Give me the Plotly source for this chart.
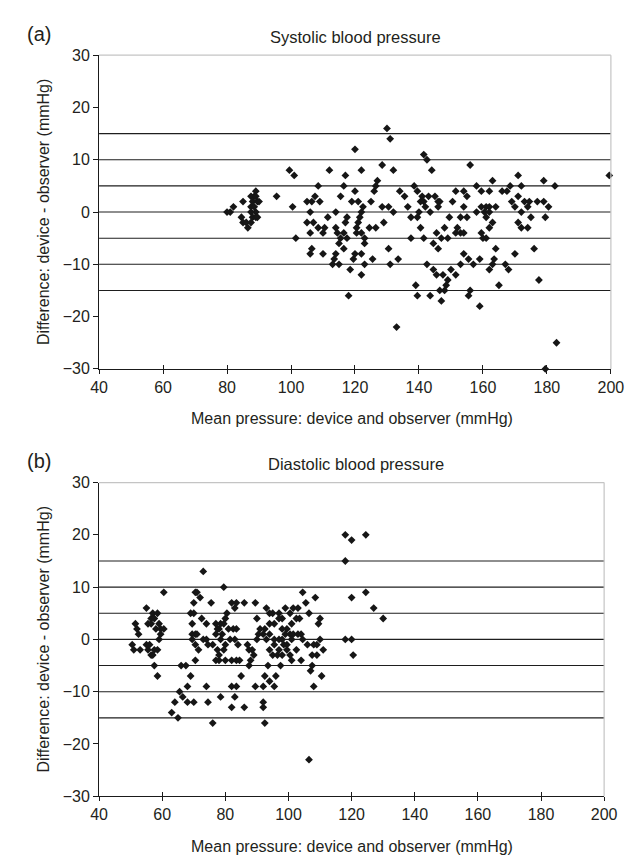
import plotly.graph_objects as go

# ---------------- data ----------------
# (a) Systolic: mean pressure (x) and difference (y)
sys_mean = [
    80, 81, 82, 85, 84.5, 85, 86, 86.5, 87.5, 87.5, 88.5, 89, 88, 89.5, 90, 87.5, 88.5, 89, 87.5, 88, 89, 89.5, 89,
    95.5, 99.5, 101, 100.5, 101.5,
    112, 117, 122, 128.5, 132, 120, 130, 131,
    127, 126.5, 126, 108.5, 116.5, 120, 115.5, 107.5,
    105, 106.5, 109, 119, 121, 125, 134, 135.5, 136.5,
    128.5, 130.5, 132, 122.5, 122, 106, 114,
    105, 107, 111.5, 117.5, 117, 121.5, 121, 120.5, 120.5,
    129, 124.5, 126.5, 108.5, 110.5, 110, 106, 114,
    114.5, 115.5, 116.5, 117.5, 115, 116.5,
    122, 123, 123, 137.5, 130.5, 106.5, 106, 110, 114, 113.5, 113, 115,
    120, 122, 119.5, 125.5, 123, 131, 133.5, 118.5, 122, 118, 133,
    138.5, 137.5, 139.5, 140, 140.5, 141.5, 141.5, 142.5, 144, 156,
    139.5, 141, 141.5, 140.5, 143, 142, 143.5, 145, 146, 146.5, 146,
    144.5, 146, 145.5, 147, 148, 149, 149.5, 150.5, 151.5, 154, 155, 154, 153, 155,
    152, 153, 151.5, 154,
    158, 159.5, 162, 163, 166, 167.5, 168.5,
    158, 159.5, 160.5, 161, 162, 162, 161, 164, 163, 162,
    159.5, 160, 161, 164, 154, 155.5, 157, 159, 153, 163.5, 163, 162, 167, 168,
    142.5, 144.5, 145.5, 147.5, 149, 148.5, 148, 146.5, 147, 150, 151.5,
    139, 139.5, 143.5, 156, 155.5, 159, 165,
    171, 172, 169, 170, 171, 172, 173, 174.5, 174, 177, 179, 180.5,
    171, 172, 174, 175, 179.5, 179, 182.5, 170, 176, 177.5, 199.5, 183, 179.5,
]
sys_diff = [
    0, 0, 1, 2, -1, -2, -2, -3, -2, 3, 3, 4, 2, 2, 2, 1, 1, 0, 0, -1, -1, -1, 3,
    3, 8, 7, 1, -5,
    8, 7, 8, 9, 8, 12, 16, 14,
    6, 5, 4, 5, 5, 4, 3, 3,
    2, 2, 2, 2, 2, 2, 4, 3, 1,
    1, 1, 0, 1, 0, 0, 0,
    -2, -2, -1, -1, -2, -1, -2, -3, -4,
    -2, -3, -3, -3, -3, -4, -4, -3,
    -4, -5, -4, -5, -6, -7,
    -4, -5, -6, -5, -7, -7, -8, -8, -8, -9, -10, -10,
    -8, -8, -9, -9, -10, -10, -9, -11, -12, -16, -22,
    5, -1, -1, 0, -3, -5, 11, 10, 8, 9,
    4, 3, 2, 2, 3, 1, 0, 3, 2, 2, 1,
    -6, -7, -4, -5, -3, -5, -1, 2, 4, 4, 3, 1, -1, -1,
    -3, -4, -4, -4,
    5, 4, 4, 6, 4, 4, 5,
    0, 1, 0, 1, 1, 0, -1, 1, -2, -3,
    -4, -5, -5, -7, -8, -9, -10, -9, -10, -9, -10, -11, -10, -11,
    -10, -11, -12, -12, -13, -14, -15, -15, -17, -11, -12,
    -14, -16, -16, -15, -16, -18, -14,
    7, 5, 2, 1, 3, 0, 2, 2, 1, 2, 2, 1,
    -2, -3, -3, -1, -1, 6, 5, -8, -7, -13, 7, -25, -30,
]

# (b) Diastolic
dia_mean = [
    50.5, 51, 51.5, 52, 52.5, 53, 55, 55.5, 56, 56.5, 57, 57.5, 58.5,
    55, 55.5, 56.5, 56.5, 57, 57.5, 58, 58.5, 59, 59.5, 59.5, 59, 60.5,
    60.5, 57.5, 58.5,
    69, 70, 69.5, 69.5, 69.5, 70.5, 71, 70.5, 71.5, 70.5,
    70.5, 71, 70, 72, 73,
    72.5, 74, 73, 74, 74.5, 76, 75.5,
    66, 67.5, 69, 65.5, 66.5, 68, 64, 68, 70, 63, 65, 74, 74.5, 76,
    77, 77.5, 77, 78, 78.5, 79, 78.5, 79.5, 80, 80.5, 81, 81.5, 80, 77.5, 79.5, 78,
    79.5, 82, 83, 83.5, 77, 78, 80, 82, 83.5, 82, 83.5, 78.5, 83, 82,
    86, 89.5, 82.5, 83.5, 83, 84, 90,
    93, 94, 95, 97, 98, 99, 100.5, 101.5, 103, 103.5, 102.5, 101, 99.5, 98, 97, 95.5, 94,
    92.5, 91, 90.5, 90, 92, 93, 94, 95.5, 97, 98, 99, 100.5, 101.5, 103, 104, 104.5, 101,
    99.5, 98.5, 97, 95.5, 94, 95, 96.5, 98, 99.5, 100.5, 101, 102.5, 104,
    106, 108, 109, 107.5, 110, 111, 109,
    104.5, 108.5, 105.5, 106.5, 110, 109.5,
    87, 87.5, 88.5, 89, 88, 87.5, 84.5, 85,
    93.5, 97.5, 92.5, 94, 96, 95.5, 89.5, 92,
    107.5, 107, 110.5, 108, 86, 92, 92, 92.5, 106.5,
    118, 120, 124.5, 118, 120, 124.5, 127, 130, 118, 120, 120.5,
]
dia_diff = [
    -1, -2, 3, 2, 1, -2, -1, -2, -1, -3, -3, -2, -2,
    6, 3, 4, 3, 5, 4, 2, 5, 3, 2, 1, 0, 2,
    9, -5, -7,
    5, 5, 3, 1, 0, 1, 1, -1, -2, -4,
    9, 9, 7, 8, 13,
    4, 3, 0, 0, -1, -1, 7,
    -5, -5, -7, -10, -11, -9, -12, -12, -12, -14, -15, -9, -12, -16,
    3, 2, 1, 2, 3, 1, 0, 3, 4, 5, 2, 0, -1, -2, -2, -3,
    10, 7, 6, 7, -4, -4, -4, -4, -4, -9, -9, -11, -11, -13,
    7, 7, 2, 2, 0, -1, 4,
    6, 5, 5, 5, 4, 6, 5, 6, 6, 4, 4, 3, 2, 2, 4, 3, 3,
    2, 2, 1, 0, 1, 0, 1, 0, 0, 0, 1, 1, 1, 1, 1, 0, 0,
    -1, -1, -2, -1, -2, -3, -3, -3, -2, -3, -4, -2, -4,
    -1, -1, -3, -3, 0, -2, -1,
    9, 8, 7, 5, 4, 3,
    -1, -2, -2, -3, -4, -5, -4, -7,
    -5, -5, -7, -8, -7, -9, -9, -9,
    -5, -6, -7, -9, -13, -12, -13, -16, -23,
    20, 19, 20, 15, 8, 9, 6, 4, 0, 0, -3,
]

ref_lines = [-15, -10, -5, 0, 5, 10, 15]
x_ticks = [40, 60, 80, 100, 120, 140, 160, 180, 200]
y_ticks = [-30, -20, -10, 0, 10, 20, 30]

panel_labels = ["(a)", "(b)"]
panel_titles = ["Systolic blood pressure", "Diastolic blood pressure"]
x_title = "Mean pressure: device and observer (mmHg)"
y_title = "Difference: device - observer (mmHg)"

# ---------------- layout helpers ----------------
W, H = 641, 859
FONT = "Liberation Sans, Arial, Helvetica, sans-serif"
TXT = "#231f20"


def px_x(p):
    return p / W


def px_y(p):
    return 1 - p / H


top = dict(x0=85, x1=615, y0=40, y1=360)
bot = dict(x0=85, x1=608, y0=476, y1=796)

fig = go.Figure()

marker = dict(symbol="diamond", size=6, color="#161616", line=dict(width=0))
fig.add_trace(go.Scatter(x=sys_mean, y=sys_diff, mode="markers", marker=marker,
                         xaxis="x", yaxis="y", cliponaxis=False, showlegend=False,
                         hoverinfo="x+y"))
fig.add_trace(go.Scatter(x=dia_mean, y=dia_diff, mode="markers", marker=marker,
                         xaxis="x2", yaxis="y2", cliponaxis=False, showlegend=False,
                         hoverinfo="x+y"))
# dummy traces for the inside tick overlays
fig.add_trace(go.Scatter(x=[None], y=[None], xaxis="x3", yaxis="y", showlegend=False))
fig.add_trace(go.Scatter(x=[None], y=[None], xaxis="x4", yaxis="y2", showlegend=False))

xcommon = dict(range=[40, 200], tickmode="array", tickvals=x_ticks,
               showgrid=False, zeroline=False, showline=True, linecolor="#1a1a1a",
               linewidth=1, ticks="outside", ticklen=4, tickcolor="#1a1a1a",
               tickfont=dict(family=FONT, size=16, color=TXT), fixedrange=True)
ycommon = dict(range=[-30, 30], tickmode="array", tickvals=y_ticks,
               showgrid=False, zeroline=False, showline=True, linecolor="#1a1a1a",
               linewidth=1, ticks="outside", ticklen=5, tickcolor="#1a1a1a",
               tickfont=dict(family=FONT, size=16, color=TXT), fixedrange=True)
overlay_x = dict(range=[40, 200], tickmode="array", tickvals=x_ticks,
                 showgrid=False, zeroline=False, showline=False, ticks="inside",
                 ticklen=4, tickcolor="#1a1a1a", showticklabels=False, fixedrange=True)

fig.update_layout(
    width=W, height=H,
    margin=dict(l=0, r=0, t=0, b=0),
    paper_bgcolor="white", plot_bgcolor="white",
    font=dict(family=FONT, size=16, color=TXT),
    xaxis=dict(domain=[px_x(top["x0"]), px_x(top["x1"])], anchor="y", **xcommon),
    yaxis=dict(domain=[px_y(top["y1"]), px_y(top["y0"])], anchor="x", **ycommon),
    xaxis2=dict(domain=[px_x(bot["x0"]), px_x(bot["x1"])], anchor="y2", **xcommon),
    yaxis2=dict(domain=[px_y(bot["y1"]), px_y(bot["y0"])], anchor="x2", **ycommon),
    xaxis3=dict(overlaying="x", anchor="y", side="bottom",
                domain=[px_x(top["x0"]), px_x(top["x1"])], **overlay_x),
    xaxis4=dict(overlaying="x2", anchor="y2", side="bottom",
                domain=[px_x(bot["x0"]), px_x(bot["x1"])], **overlay_x),
)

shapes = []
for xa, ya in (("x", "y"), ("x2", "y2")):
    for v in ref_lines:
        shapes.append(dict(type="line", xref=f"{xa} domain", yref=ya, x0=0, x1=1,
                           y0=v, y1=v, line=dict(color="#1e1e1e", width=1.1), layer="below"))
    # light grey top & right frame
    shapes.append(dict(type="line", xref=f"{xa} domain", yref=f"{ya} domain",
                       x0=0, x1=1, y0=1, y1=1, line=dict(color="#c4c4c4", width=1.2)))
    shapes.append(dict(type="line", xref=f"{xa} domain", yref=f"{ya} domain",
                       x0=1, x1=1, y0=0, y1=1, line=dict(color="#c4c4c4", width=1.2)))
fig.update_layout(shapes=shapes)

ann = []
for i, (p, t) in enumerate(zip(panel_labels, panel_titles)):
    box = top if i == 0 else bot
    ann.append(dict(text=p, x=px_x(8), y=px_y(box["y0"] - 22), xref="paper", yref="paper",
                    xanchor="left", yanchor="middle", showarrow=False,
                    font=dict(size=20, family=FONT, color=TXT)))
    ann.append(dict(text=t, x=px_x(351), y=px_y(box["y0"] - 19), xref="paper", yref="paper",
                    xanchor="center", yanchor="middle", showarrow=False,
                    font=dict(size=16.5, family=FONT, color=TXT)))
    ann.append(dict(text=x_title, x=px_x(347), y=px_y(box["y1"] + 51), xref="paper", yref="paper",
                    xanchor="center", yanchor="middle", showarrow=False,
                    font=dict(size=16, family=FONT, color=TXT)))
    ann.append(dict(text=y_title, x=px_x(27), y=px_y((box["y0"] + box["y1"]) / 2),
                    xref="paper", yref="paper", textangle=-90,
                    xanchor="center", yanchor="middle", showarrow=False,
                    font=dict(size=16, family=FONT, color=TXT)))
fig.update_layout(annotations=ann)

fig.write_html("out.html")
